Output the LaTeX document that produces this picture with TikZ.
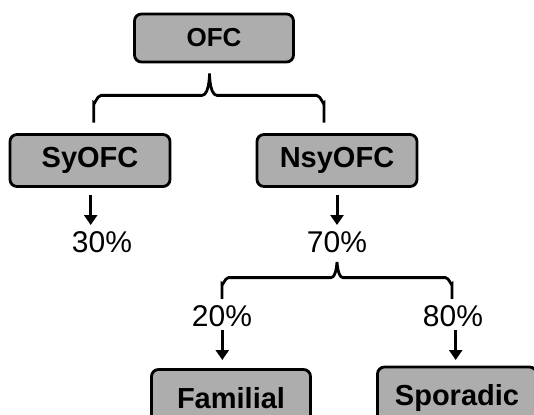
\documentclass[tikz,border=0pt]{standalone}
\usepackage{fontspec}
\setmainfont{Liberation Sans}
\usetikzlibrary{arrows.meta}
\definecolor{boxgray}{HTML}{ADADAD}
\begin{document}
\begin{tikzpicture}[x=1pt,y=-1pt,
  box/.style={draw=black, line width=2.8pt, fill=boxgray, rounded corners=7pt,
    minimum width=159pt, minimum height=50pt, inner sep=0pt,
    font=\fontsize{29}{31}\selectfont\bfseries},
  pct/.style={inner sep=0pt, font=\fontsize{30}{32}\selectfont},
  arr/.style={line width=3pt, -{Triangle[width=13pt,length=10pt]}},
  brace/.style={line width=2.8pt}]
\useasboundingbox (0,0) rectangle (534,414);
\clip (0,0) rectangle (534,414);
\node[box, minimum height=48pt, font=\fontsize{26}{28}\selectfont\bfseries] (OFC) at (214,38) {OFC};
\node[box, minimum width=160pt, minimum height=52pt] (Sy) at (90,160.5) {SyOFC};
\node[box, minimum width=160pt, minimum height=52pt] (Nsy) at (337,160.5) {NsyOFC};
\node[box, minimum height=57pt] (Fam) at (231,398) {Familial};
\node[box, minimum height=62pt] (Spo) at (457,398) {Sporadic};
\node[pct] (p30) at (102,242) {30\%};
\node[pct] (p70) at (337,242) {70\%};
\node[pct] (p20) at (222,316) {20\%};
\node[pct] (p80) at (453,316) {80\%};
% braces
\coordinate (b1tip) at (209.5,75);
\coordinate (b1l) at (93.7,122.6);
\coordinate (b1r) at (324,122.6);
\draw[brace] (b1l) -- (93.7,103) to[out=-90,in=180] (101,95.4) -- (202,95.4)
  to[out=0,in=90] (b1tip) to[out=90,in=180] (217,95.4) -- (316.7,95.4)
  to[out=0,in=-90] (324,103) -- (b1r);
\coordinate (b2tip) at (337,263);
\coordinate (b2l) at (222,298.8);
\coordinate (b2r) at (452,298.8);
\draw[brace] (b2l) -- (222,284) to[out=-90,in=180] (228.5,277.6) -- (331,277.6)
  to[out=0,in=90] (b2tip) to[out=90,in=180] (343,277.6) -- (445.5,277.6)
  to[out=0,in=-90] (452,284) -- (b2r);
% arrows
\draw[arr] ([xshift=0.7pt]Sy.south |- 0,195) -- ([xshift=0.7pt]Sy.south |- 0,225);
\draw[arr] (Nsy.south |- 0,195) -- (Nsy.south |- 0,225);
\draw[arr] ([xshift=0.3pt]p20.south |- 0,330) -- ([xshift=0.3pt]p20.south |- 0,360);
\draw[arr] ([xshift=2.7pt]p80.south |- 0,330) -- ([xshift=2.7pt]p80.south |- 0,360);
\end{tikzpicture}
\end{document}
